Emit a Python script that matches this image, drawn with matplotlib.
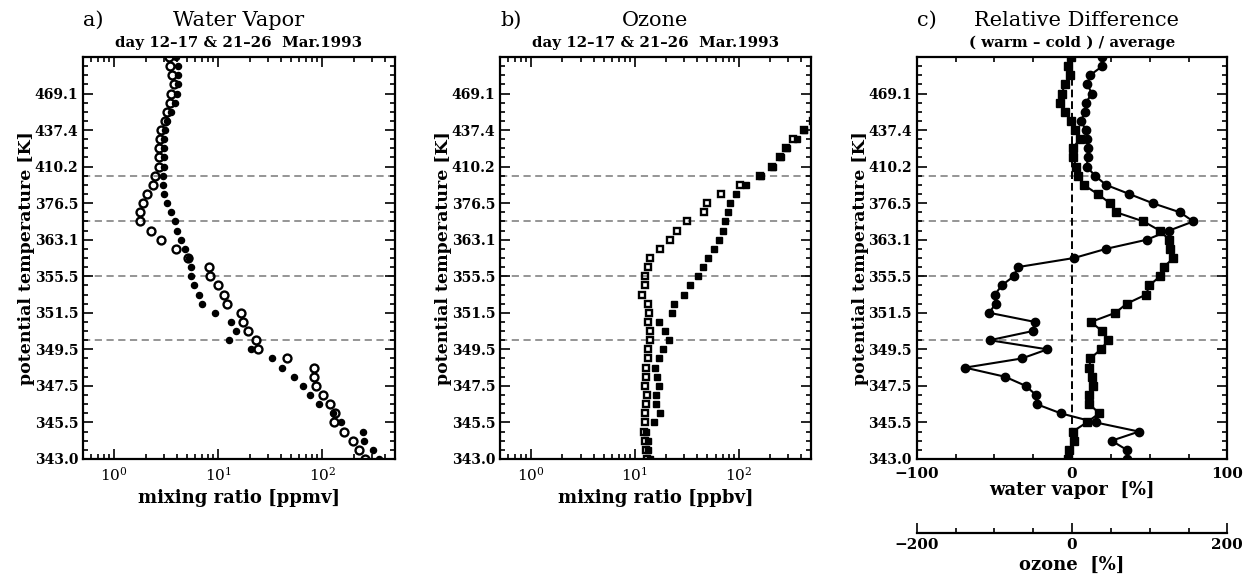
import numpy as np
import matplotlib
matplotlib.use("Agg")
import matplotlib.pyplot as plt
from matplotlib.ticker import MultipleLocator, LogLocator, LogFormatterMathtext, NullFormatter

plt.rcParams['font.family'] = 'DejaVu Serif'
plt.rcParams['mathtext.fontset'] = 'dejavuserif'
plt.rcParams['mathtext.default'] = 'bf'

# =========================
# Data (one value per level, bottom -> top)
# =========================

levels = np.arange(45)
theta_tick_levels = [0, 4, 8, 12, 16, 20, 24, 28, 32, 36, 40]
theta_tick_labels = ['343.0', '345.5', '347.5', '349.5', '351.5', '355.5',
                     '363.1', '376.5', '410.2', '437.4', '469.1']
dash_levels = [13, 20, 26, 31]

# water vapor [ppmv]
wv_warm = [354, 310, 250, 244, 151, 126, 94, 77, 66, 53,
           41, 33, 20.7, 12.8, 14.7, 13.2, 9.3, 6.95, 6.5, 5.9,
           5.5, 5.5, 5.2, 4.83, 4.42, 4.05, 3.81, 3.54, 3.21, 2.98,
           2.94, 2.94, 2.98, 2.98, 3.0, 3.0, 3.09, 3.24, 3.54, 3.81,
           4.0, 4.1, 4.1, 4.1, 3.96]
wv_cold = [257, 224, 197, 162, 130, 132, 120, 102, 88, 83,
           84, 46, 24.2, 23.2, 19.2, 17.2, 16.5, 12.1, 11.3, 9.9,
           8.3, 8.1, 5.1, 3.89, 2.83, 2.26, 1.75, 1.75, 1.91, 2.06,
           2.35, 2.49, 2.69, 2.69, 2.69, 2.73, 2.83, 3.05, 3.21, 3.41,
           3.54, 3.72, 3.62, 3.41, 3.36]

# ozone [ppbv], levels 0..37 (higher levels are off scale)
o3_warm = [14.1, 13.3, 13.5, 12.9, 15.3, 17.6, 15.9, 16.1, 17.0, 16.4,
           15.8, 17.0, 18.7, 21.4, 19.7, 17.1, 22.8, 24.1, 29.5, 34.2,
           40.5, 45.7, 51, 58.5, 65, 70, 74, 79, 83, 95,
           119, 165, 215, 254, 295, 369, 430, 520]
o3_cold = [13.2, 12.9, 12.5, 12.2, 12.6, 12.6, 12.7, 13.1, 12.6, 12.7,
           12.7, 13.4, 13.4, 14.1, 13.9, 13.5, 13.6, 13.4, 11.8, 12.6,
           12.4, 13.4, 14.1, 17.4, 21.7, 25.6, 32, 46, 50, 67,
           104, 160, 208, 250, 290, 335, 425, 520]

# relative difference (warm - cold) / average [%]
wv_diff = [35.6, 35.2, 25.5, 43.1, 15.2, -7.3, -22.8, -23.2, -29.8, -43.1,
           -68.9, -32.4, -15.9, -53.0, -25.4, -23.9, -53.3, -49.2, -49.6, -45.3,
           -37.5, -35.0, 1.3, 21.9, 48.1, 62.5, 78.1, 69.5, 51.9, 36.9,
           21.9, 14.8, 9.5, 10.1, 10.5, 9.9, 9.0, 5.6, 8.4, 9.0,
           12.7, 9.9, 11.6, 19.5, 19.1]
o3_diff = [-4.8, -3.4, 2.6, 0.8, 19, 35, 22.4, 22.4, 27.4, 25.4,
           22.4, 23.6, 37, 46.8, 38.6, 24.4, 55.8, 70.4, 95.4, 99.6,
           113.4, 118, 130.6, 126, 125, 113, 92, 57, 49, 33,
           15, 7.4, 5.2, 1.6, 0.8, 10, 3.8, -1.8, -9, -15.4,
           -13.4, -9, -2.6, -5.6, -1.8]


# =========================
# Axes helpers
# =========================

def style_theta_axis(ax):
    ax.set_ylim(0, 44)
    ax.set_yticks(theta_tick_levels)
    ax.set_yticklabels(theta_tick_labels, fontsize=10, fontweight='bold')
    ax.yaxis.set_minor_locator(MultipleLocator(1))
    ax.set_ylabel('potential temperature [K]', fontsize=12.5, fontweight='bold')
    ax.yaxis.set_label_coords(-0.155, 0.5)
    ax.tick_params(axis='both', which='both', direction='in',
                   top=True, right=True, width=1.2)
    ax.tick_params(axis='both', which='major', length=7)
    ax.tick_params(axis='both', which='minor', length=3.5)
    ax.tick_params(axis='x', labelsize=11, pad=5)
    for spine in ax.spines.values():
        spine.set_linewidth(1.6)
    for lv in dash_levels:
        ax.axhline(lv, color='#8c8c8c', ls=(0, (4, 2.5)), lw=1.3, zorder=1)


def style_log_axis(ax, label):
    ax.set_xscale('log')
    ax.set_xlim(0.5, 500)
    ax.xaxis.set_major_locator(LogLocator(base=10, numticks=10))
    ax.xaxis.set_minor_locator(LogLocator(base=10, subs=np.arange(2, 10), numticks=20))
    ax.xaxis.set_major_formatter(LogFormatterMathtext())
    ax.xaxis.set_minor_formatter(NullFormatter())
    ax.set_xlabel(label, fontsize=13, fontweight='bold', labelpad=4)


def panel_titles(ax, letter, title, subtitle, x_title=0.5):
    ax.text(0.0, 1.092, letter, transform=ax.transAxes, fontsize=15,
            ha='left', va='center')
    ax.text(x_title, 1.092, title, transform=ax.transAxes, fontsize=15,
            ha='center', va='center')
    ax.text(0.5, 1.035, subtitle, transform=ax.transAxes, fontsize=10.8,
            fontweight='bold', ha='center', va='center')


fig = plt.figure(figsize=(12.51, 5.78), dpi=100)

# =========================
# a) Water vapor
# =========================

ax_a = fig.add_axes([0.0663, 0.2059, 0.2494, 0.6955])
ax_a.plot(wv_warm, levels, 'o', color='k', ms=4.4, ls='none', zorder=3)
ax_a.plot(wv_cold, levels, 'o', mfc='none', mec='k', mew=1.7, ms=5.7, ls='none', zorder=3)
style_log_axis(ax_a, 'mixing ratio [ppmv]')
style_theta_axis(ax_a)
panel_titles(ax_a, 'a)', 'Water Vapor', 'day 12\u201317 & 21\u201326  Mar.1993')

# =========================
# b) Ozone
# =========================

ax_b = fig.add_axes([0.3997, 0.2059, 0.2486, 0.6955])
ax_b.plot(o3_warm, levels[:len(o3_warm)], 's', color='k', ms=4.8,
          ls='none', zorder=3)
ax_b.plot(o3_cold, levels[:len(o3_cold)], 's', mfc='none', mec='k', mew=1.7, ms=4.8,
          ls='none', zorder=3)
style_log_axis(ax_b, 'mixing ratio [ppbv]')
style_theta_axis(ax_b)
panel_titles(ax_b, 'b)', 'Ozone', 'day 12\u201317 & 21\u201326  Mar.1993')

# =========================
# c) Relative difference
# =========================

ax_c = fig.add_axes([0.7328, 0.2059, 0.2483, 0.6955])
ax_o3 = ax_c.twiny()

ax_c.plot(wv_diff, levels, '-o', color='k', lw=1.5, ms=6.0, zorder=3)
ax_c.axvline(0, color='k', ls=(0, (4, 2)), lw=1.4, zorder=2)
ax_c.set_xlim(-100, 100)
ax_c.set_xticks([-100, 0, 100])
ax_c.xaxis.set_minor_locator(MultipleLocator(25))
ax_c.set_xlabel('water vapor  [%]', fontsize=13, fontweight='bold', labelpad=0)
style_theta_axis(ax_c)
ax_c.tick_params(axis='x', labelsize=11, pad=6)
for lbl in ax_c.get_xticklabels():
    lbl.set_fontweight('bold')

ax_o3.plot(o3_diff, levels, '-s', color='k', lw=1.5, ms=5.2, zorder=3)
ax_o3.set_xlim(-200, 200)
ax_o3.set_ylim(0, 44)
ax_o3.xaxis.set_ticks_position('bottom')
ax_o3.xaxis.set_label_position('bottom')
ax_o3.spines['bottom'].set_position(('outward', 53))
ax_o3.spines['bottom'].set_linewidth(1.6)
for s in ['top', 'left', 'right']:
    ax_o3.spines[s].set_visible(False)
ax_o3.set_xticks([-200, 0, 200])
ax_o3.xaxis.set_minor_locator(MultipleLocator(50))
ax_o3.tick_params(axis='x', which='both', direction='in', width=1.2,
                  labelsize=11, pad=4)
ax_o3.tick_params(axis='x', which='major', length=7)
ax_o3.tick_params(axis='x', which='minor', length=3.5)
for lbl in ax_o3.get_xticklabels():
    lbl.set_fontweight('bold')
ax_o3.set_xlabel('ozone  [%]', fontsize=13, fontweight='bold', labelpad=3)

# twiny moves the main ticks off the top, put them back
ax_c.tick_params(axis='x', which='both', top=True, labeltop=False)

panel_titles(ax_c, 'c)', 'Relative Difference', '( warm \u2013 cold ) / average', x_title=0.515)

fig.savefig('out.png', dpi=100)
